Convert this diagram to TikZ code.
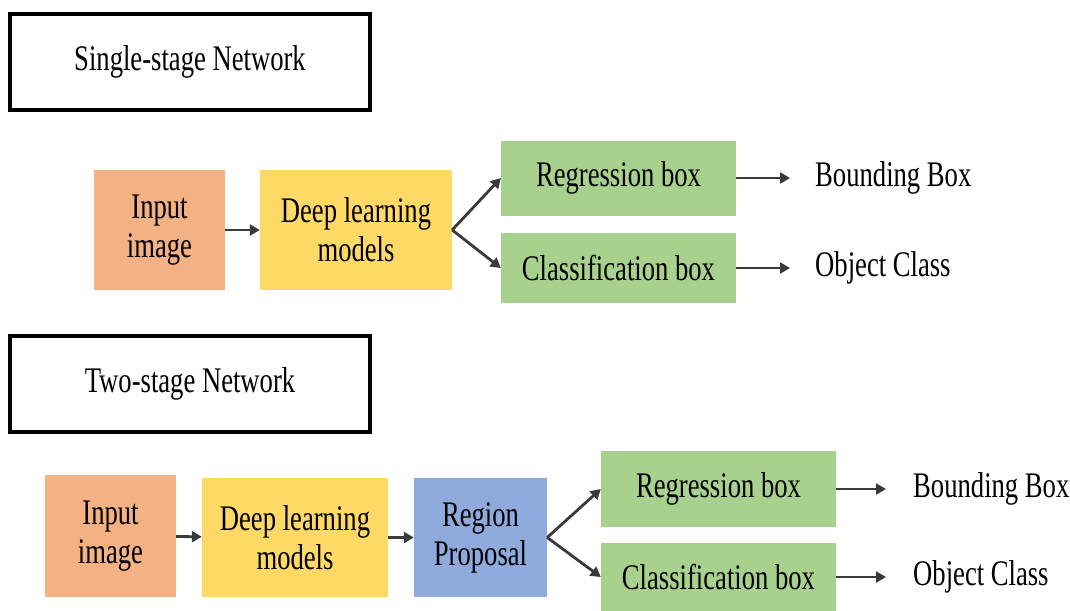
\documentclass[tikz,border=0pt]{standalone}
\usepackage{fontspec}
\setmainfont{Liberation Serif}[FakeStretch=0.74]
\usetikzlibrary{arrows.meta}

\definecolor{inorange}{HTML}{F4B183}
\definecolor{dlyellow}{HTML}{FFD966}
\definecolor{boxgreen}{HTML}{A9D18E}
\definecolor{rpblue}{HTML}{8FAADC}
\definecolor{arrowgray}{HTML}{3A3A3A}

\tikzset{
  every node/.style={font=\fontsize{36}{39}\selectfont, align=center, inner sep=0pt},
  titlebox/.style={draw=black, line width=3.5pt, fill=white,
    minimum width=360pt, minimum height=96pt},
  block/.style={fill=#1, draw=none},
  label/.style={anchor=west},
  flow/.style={draw=arrowgray, line width=2.8pt,
    -{Triangle[length=10pt,width=11pt]}},
}

\begin{document}
\begin{tikzpicture}[x=1pt, y=-1pt]
  \useasboundingbox[fill=white] (0,0) rectangle (1070,610);

  % ---------- single-stage pipeline ----------
  \node[titlebox] (t1) at (190,62) {Single-stage Network};

  \node[block=inorange, minimum width=131pt, minimum height=120pt] (in1) at (159.5,230) {Input\\image};
  \node[block=dlyellow, minimum width=192pt, minimum height=120pt] (dl1) at (356,230) {Deep learning\\models};
  \node[block=boxgreen, minimum width=235pt, minimum height=75pt] (rg1) at (618.5,178) {Regression box};
  \node[block=boxgreen, minimum width=235pt, minimum height=70pt] (cl1) at (618.5,268) {Classification box};
  \node[label] (bb1) at (815,178) {Bounding Box};
  \node[label] (oc1) at (815,268) {Object Class};

  \draw[flow] (in1) -- (dl1);
  \draw[flow] (dl1.east) -- (rg1.west);
  \draw[flow] (dl1.east) -- (cl1.west);
  \draw[flow, shorten >=25pt] (rg1.east) -- (bb1.west);
  \draw[flow, shorten >=25pt] (cl1.east) -- (oc1.west);

  % ---------- two-stage pipeline ----------
  \node[titlebox] (t2) at (190,384) {Two-stage Network};

  \node[block=inorange, minimum width=131pt, minimum height=122pt] (in2) at (110.5,536) {Input\\image};
  \node[block=dlyellow, minimum width=186pt, minimum height=119pt] (dl2) at (295,537.5) {Deep learning\\models};
  \node[block=rpblue, minimum width=133pt, minimum height=119pt] (rp2) at (480.5,537.5) {Region\\Proposal};
  \node[block=boxgreen, minimum width=235pt, minimum height=76pt] (rg2) at (718.5,489) {Regression box};
  \node[block=boxgreen, minimum width=235pt, minimum height=68pt] (cl2) at (718.5,577) {Classification box};
  \node[label] (bb2) at (913,489) {Bounding Box};
  \node[label] (oc2) at (913,577) {Object Class};

  \draw[flow] (in2) -- (dl2);
  \draw[flow] (dl2) -- (rp2);
  \draw[flow] (rp2.east) -- (rg2.west);
  \draw[flow] (rp2.east) -- (cl2.west);
  \draw[flow, shorten >=27pt] (rg2.east) -- (bb2.west);
  \draw[flow, shorten >=27pt] (cl2.east) -- (oc2.west);
\end{tikzpicture}
\end{document}
